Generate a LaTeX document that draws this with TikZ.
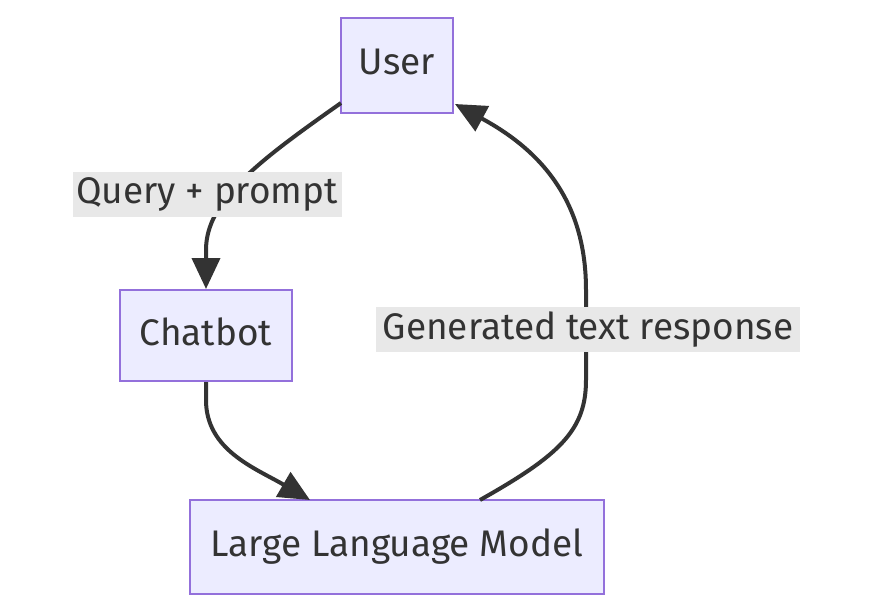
\documentclass[tikz,border=0pt]{standalone}
\usepackage{fontspec}
\setmainfont{Fira Sans}
\usetikzlibrary{arrows.meta}
\definecolor{boxfill}{HTML}{ECECFF}
\definecolor{boxline}{HTML}{9370DB}
\definecolor{ink}{HTML}{333333}
\definecolor{lblbg}{HTML}{E8E8E8}
\newcommand{\upbox}[1]{\raisebox{7pt}{#1}}
\tikzset{
  box/.style={draw=boxline, fill=boxfill, line width=2pt, text=ink, inner sep=0pt,
    font=\fontsize{37}{44}\selectfont},
  lbl/.style={fill=lblbg, text=ink, inner sep=0pt, font=\fontsize{37}{44}\selectfont},
  edge/.style={draw=ink, line width=4pt, -{Triangle[length=31pt,width=28pt]}},
}
\begin{document}
\begin{tikzpicture}[x=1pt,y=-1pt]
\useasboundingbox[fill=white] (0,0) rectangle (871,613);
\node[box, minimum width=112pt, minimum height=95pt] (U) at (397,65.5) {\upbox{User}};
\node[box, minimum width=172pt, minimum height=91pt] (C) at (206,335.5) {\upbox{Chatbot}};
\node[box, minimum width=414pt, minimum height=94pt] (L) at (397,547) {\upbox{Large Language Model}};
\coordinate (u1) at (341,103);
\coordinate (l1) at (480,500);
\coordinate (u2) at (455,104);
\coordinate (l2) at (310,500);
\draw[edge] (u1) .. controls (260,160) and (206,200) .. (206,250) -- (C.north);
\draw[edge] (C.south) -- (206,400) .. controls (206,450) and (255,468) .. (l2);
\draw[edge] (l1) .. controls (560,455) and (586,430) .. (586,380) -- (586,290) .. controls (586,200) and (540,150) .. (u2);
\node[lbl, minimum width=269pt, minimum height=45pt] (q) at (207,194.5) {Query + prompt};
\node[lbl, minimum width=424pt, minimum height=45pt] (g) at (588,329.5) {Generated text response};
\end{tikzpicture}
\end{document}
